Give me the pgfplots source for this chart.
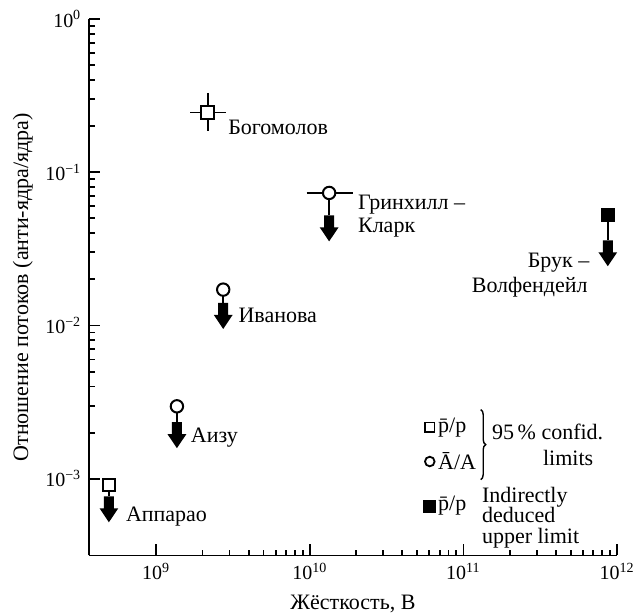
\documentclass[border=0pt]{standalone}
\usepackage{fontspec}
\setmainfont{Liberation Serif}
\usepackage{pgfplots}
\pgfplotsset{compat=1.18}
\usetikzlibrary{decorations.pathreplacing}
\pgfdeclareplotmark{downarrow}{%
 \pgfpathmoveto{\pgfqpoint{-2.5pt}{0pt}}%
 \pgfpathlineto{\pgfqpoint{2.5pt}{0pt}}%
 \pgfpathlineto{\pgfqpoint{2.5pt}{-6pt}}%
 \pgfpathlineto{\pgfqpoint{4.7pt}{-6pt}}%
 \pgfpathlineto{\pgfqpoint{0pt}{-13pt}}%
 \pgfpathlineto{\pgfqpoint{-4.7pt}{-6pt}}%
 \pgfpathlineto{\pgfqpoint{-2.5pt}{-6pt}}%
 \pgfpathclose
 \pgfusepathqfill}
\newcommand\pw[1]{10\textsuperscript{#1}}
\begin{document}
\fontsize{11}{13}\selectfont
\begin{tikzpicture}
\begin{axis}[
  name=ax,
  scale only axis,
  width=264.15pt, height=268.35pt,
  xmode=log, ymode=log,
  xmin=3.65e8, xmax=1e12,
  ymin=3.16e-4, ymax=1,
  axis x line*=bottom, axis y line*=left,
  axis line style={line width=0.9pt},
  tick align=inside,
  major tick length=5.5pt,
  minor tick num=0,
  every tick/.style={line width=0.9pt, black},
  tick label style={font=\fontsize{10}{12}\selectfont},
  xtick={1e9,1e10,1e11,1e12},
  xticklabels={\pw{9},\pw{10},\pw{11},\pw{12}},
  ytick={1e-3,1e-2,1e-1,1},
  yticklabels={\pw{−3},\pw{−2},\pw{−1},\pw{0}},
  xlabel={Жёсткость, В},
  ylabel={Отношение потоков (анти-ядра/ядра)},
  ylabel shift=-1.2pt,
  clip=false,
]
% error bars
\addplot[draw=none, mark=none, forget plot,
  error bars/.cd, x dir=both, x explicit, y dir=both, y explicit,
  error bar style={line width=0.8pt, black},
  error mark options={line width=0.8pt, mark size=2pt, black}]
  coordinates {(2.17e9,0.245) += (0.495e9,0.065) -= (0.404e9,0.0475)};
\addplot[draw=none, mark=none, forget plot,
  error bars/.cd, x dir=both, x explicit,
  error bar style={line width=0.8pt, black},
  error mark options={line width=0.8pt, mark size=2pt, black}]
  coordinates {(1.336e10,0.0733) += (0.458e10,0) -= (0.325e10,0)};
% connecting lines
\addplot[black, line width=0.8pt, mark=none] coordinates {(4.92e8,9.12e-4) (4.92e8,7.69e-4)};
\addplot[black, line width=0.8pt, mark=none] coordinates {(1.364e9,2.97e-3) (1.364e9,2.34e-3)};
\addplot[black, line width=0.8pt, mark=none] coordinates {(2.73e9,1.715e-2) (2.73e9,1.403e-2)};
\addplot[black, line width=0.8pt, mark=none] coordinates {(1.336e10,7.33e-2) (1.336e10,5.23e-2)};
\addplot[black, line width=0.8pt, mark=none] coordinates {(8.71e11,5.29e-2) (8.71e11,3.6e-2)};
% upper-limit arrows
\addplot[only marks, mark=downarrow, black] coordinates {
 (4.92e8,7.69e-4) (1.364e9,2.34e-3) (2.73e9,1.403e-2) (1.336e10,5.23e-2) (8.71e11,3.6e-2)};
% open squares
\addplot[only marks, mark=square*, mark size=3.2pt, mark options={fill=white, draw=black, line width=1pt}]
 coordinates {(4.92e8,9.12e-4) (2.17e9,0.245)};
% open circles
\addplot[only marks, mark=*, mark size=3.1pt, mark options={fill=white, draw=black, line width=1pt}]
 coordinates {(1.364e9,2.97e-3) (2.73e9,1.715e-2) (1.336e10,7.33e-2)};
% filled square
\addplot[only marks, mark=square*, mark size=3.3pt, mark options={fill=black, draw=black}]
 coordinates {(8.71e11,5.29e-2)};
% legend symbols
\addplot[only marks, mark=square*, mark size=2.4pt, mark options={fill=white, draw=black, line width=0.9pt}]
 coordinates {(6.04e10,2.17e-3)};
\addplot[only marks, mark=*, mark size=2.4pt, mark options={fill=white, draw=black, line width=0.9pt}]
 coordinates {(6.04e10,1.296e-3)};
\addplot[only marks, mark=square*, mark size=3pt, mark options={fill=black, draw=black}]
 coordinates {(6.04e10,6.64e-4)};
% labels
\node[anchor=base west, inner sep=0] at (axis cs:2.927e9,0.176) {Богомолов};
\node[anchor=base west, inner sep=0] at (axis cs:2.05e10,0.05703) {Гринхилл –};
\node[anchor=base west, inner sep=0] at (axis cs:2.05e10,0.0402) {Кларк};
\node[anchor=base east, inner sep=0] at (axis cs:6.64e11,0.02375) {Брук –};
\node[anchor=base east, inner sep=0] at (axis cs:6.48e11,0.01647) {Волфендейл};
\node[anchor=base west, inner sep=0] at (axis cs:3.417e9,0.0104) {Иванова};
\node[anchor=base west, inner sep=0] at (axis cs:1.674e9,1.715e-3) {Аизу};
\node[anchor=base west, inner sep=0] at (axis cs:6.32e8,5.23e-4) {Аппарао};
% legend texts
\node[anchor=west, inner sep=0] at (axis cs:6.81e10,2.17e-3) {\={p}/p};
\node[anchor=west, inner sep=0] at (axis cs:6.81e10,1.296e-3) {Ā/A};
\node[anchor=west, inner sep=0] at (axis cs:6.81e10,6.64e-4) {\={p}/p};
\draw[line width=0.7pt, decorate, decoration={brace, amplitude=2.5pt}]
  (axis cs:1.296e11,2.83e-3) -- (axis cs:1.296e11,9.88e-4);
\node[anchor=west, inner sep=0] at (axis cs:1.528e11,2.03e-3) {95\,\% confid.};
\node[anchor=west, inner sep=0] at (axis cs:3.28e11,1.374e-3) {limits};
\node[anchor=west, inner sep=0, align=left, font=\fontsize{11}{10.3}\selectfont]
  at (axis cs:1.315e11,5.58e-4) {Indirectly\\deduced\\upper limit};
\end{axis}
\pgfresetboundingbox
\useasboundingbox ([xshift=-44.5pt,yshift=-29.5pt]ax.south west) rectangle ([xshift=8pt,yshift=9.5pt]ax.north east);
\end{tikzpicture}
\end{document}
